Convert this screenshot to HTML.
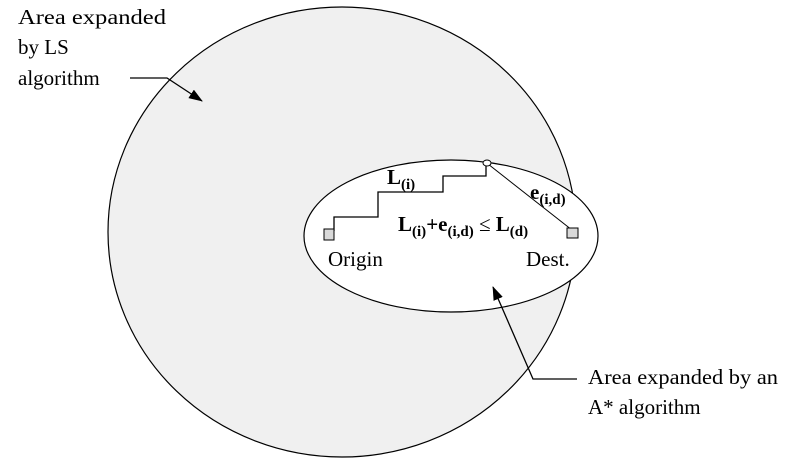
<!DOCTYPE html>
<html><head><style>body{margin:0;background:#fff}svg{display:block}text{font-family:"Liberation Serif","Times New Roman",serif}</style></head>
<body>
<svg width="785" height="465" viewBox="0 0 785 465" xmlns="http://www.w3.org/2000/svg">
<defs><marker id="ah" markerWidth="14" markerHeight="10" refX="13" refY="5" orient="auto" markerUnits="userSpaceOnUse"><path d="M0,0 L14,5 L0,10 z" fill="#000"/></marker></defs>
<ellipse cx="342" cy="232" rx="234" ry="225" fill="#f0f0f0" stroke="#000" stroke-width="1.2"/>
<ellipse cx="451" cy="236" rx="147" ry="76" fill="#fff" stroke="#000" stroke-width="1.2"/>
<polyline points="334,231 334,217 378,217 378,192 443,192 443,176 486,176 486,165" fill="none" stroke="#000" stroke-width="1.3"/>
<line x1="488" y1="164" x2="572" y2="230" stroke="#000" stroke-width="1"/>
<ellipse cx="487" cy="163" rx="4" ry="3" fill="#fff" stroke="#000"/>
<rect x="324" y="229" width="10" height="11" fill="#d9d9d9" stroke="#000"/>
<rect x="567" y="228" width="11" height="10" fill="#d9d9d9" stroke="#000"/>
<polyline points="130,78 167,78 202,101" fill="none" stroke="#000" stroke-width="1.3" marker-end="url(#ah)"/>
<polyline points="577,379 533,379 493,287" fill="none" stroke="#000" stroke-width="1.3" marker-end="url(#ah)"/>
<g font-size="21">
<text x="18" y="24" textLength="148" lengthAdjust="spacingAndGlyphs">Area expanded</text>
<text x="18" y="54">by LS</text>
<text x="18" y="85">algorithm</text>
<text x="588" y="384" textLength="190" lengthAdjust="spacingAndGlyphs">Area expanded by an</text>
<text x="588" y="414">A* algorithm</text>
<text x="328" y="266">Origin</text>
<text x="526" y="266">Dest.</text>
</g>
<g font-weight="bold">
<text x="387" y="184" font-size="21">L<tspan font-size="15" dy="5">(i)</tspan></text>
<text x="530" y="199" font-size="21">e<tspan font-size="15" dy="5">(i,d)</tspan></text>
<text x="398" y="231" font-size="21">L<tspan font-size="15" dy="5">(i)</tspan><tspan dy="-5">+e</tspan><tspan font-size="15" dy="5">(i,d)</tspan><tspan dy="-5" font-weight="normal"> ≤ </tspan><tspan>L</tspan><tspan font-size="15" dy="5">(d)</tspan></text>
</g>
</svg>
</body></html>
